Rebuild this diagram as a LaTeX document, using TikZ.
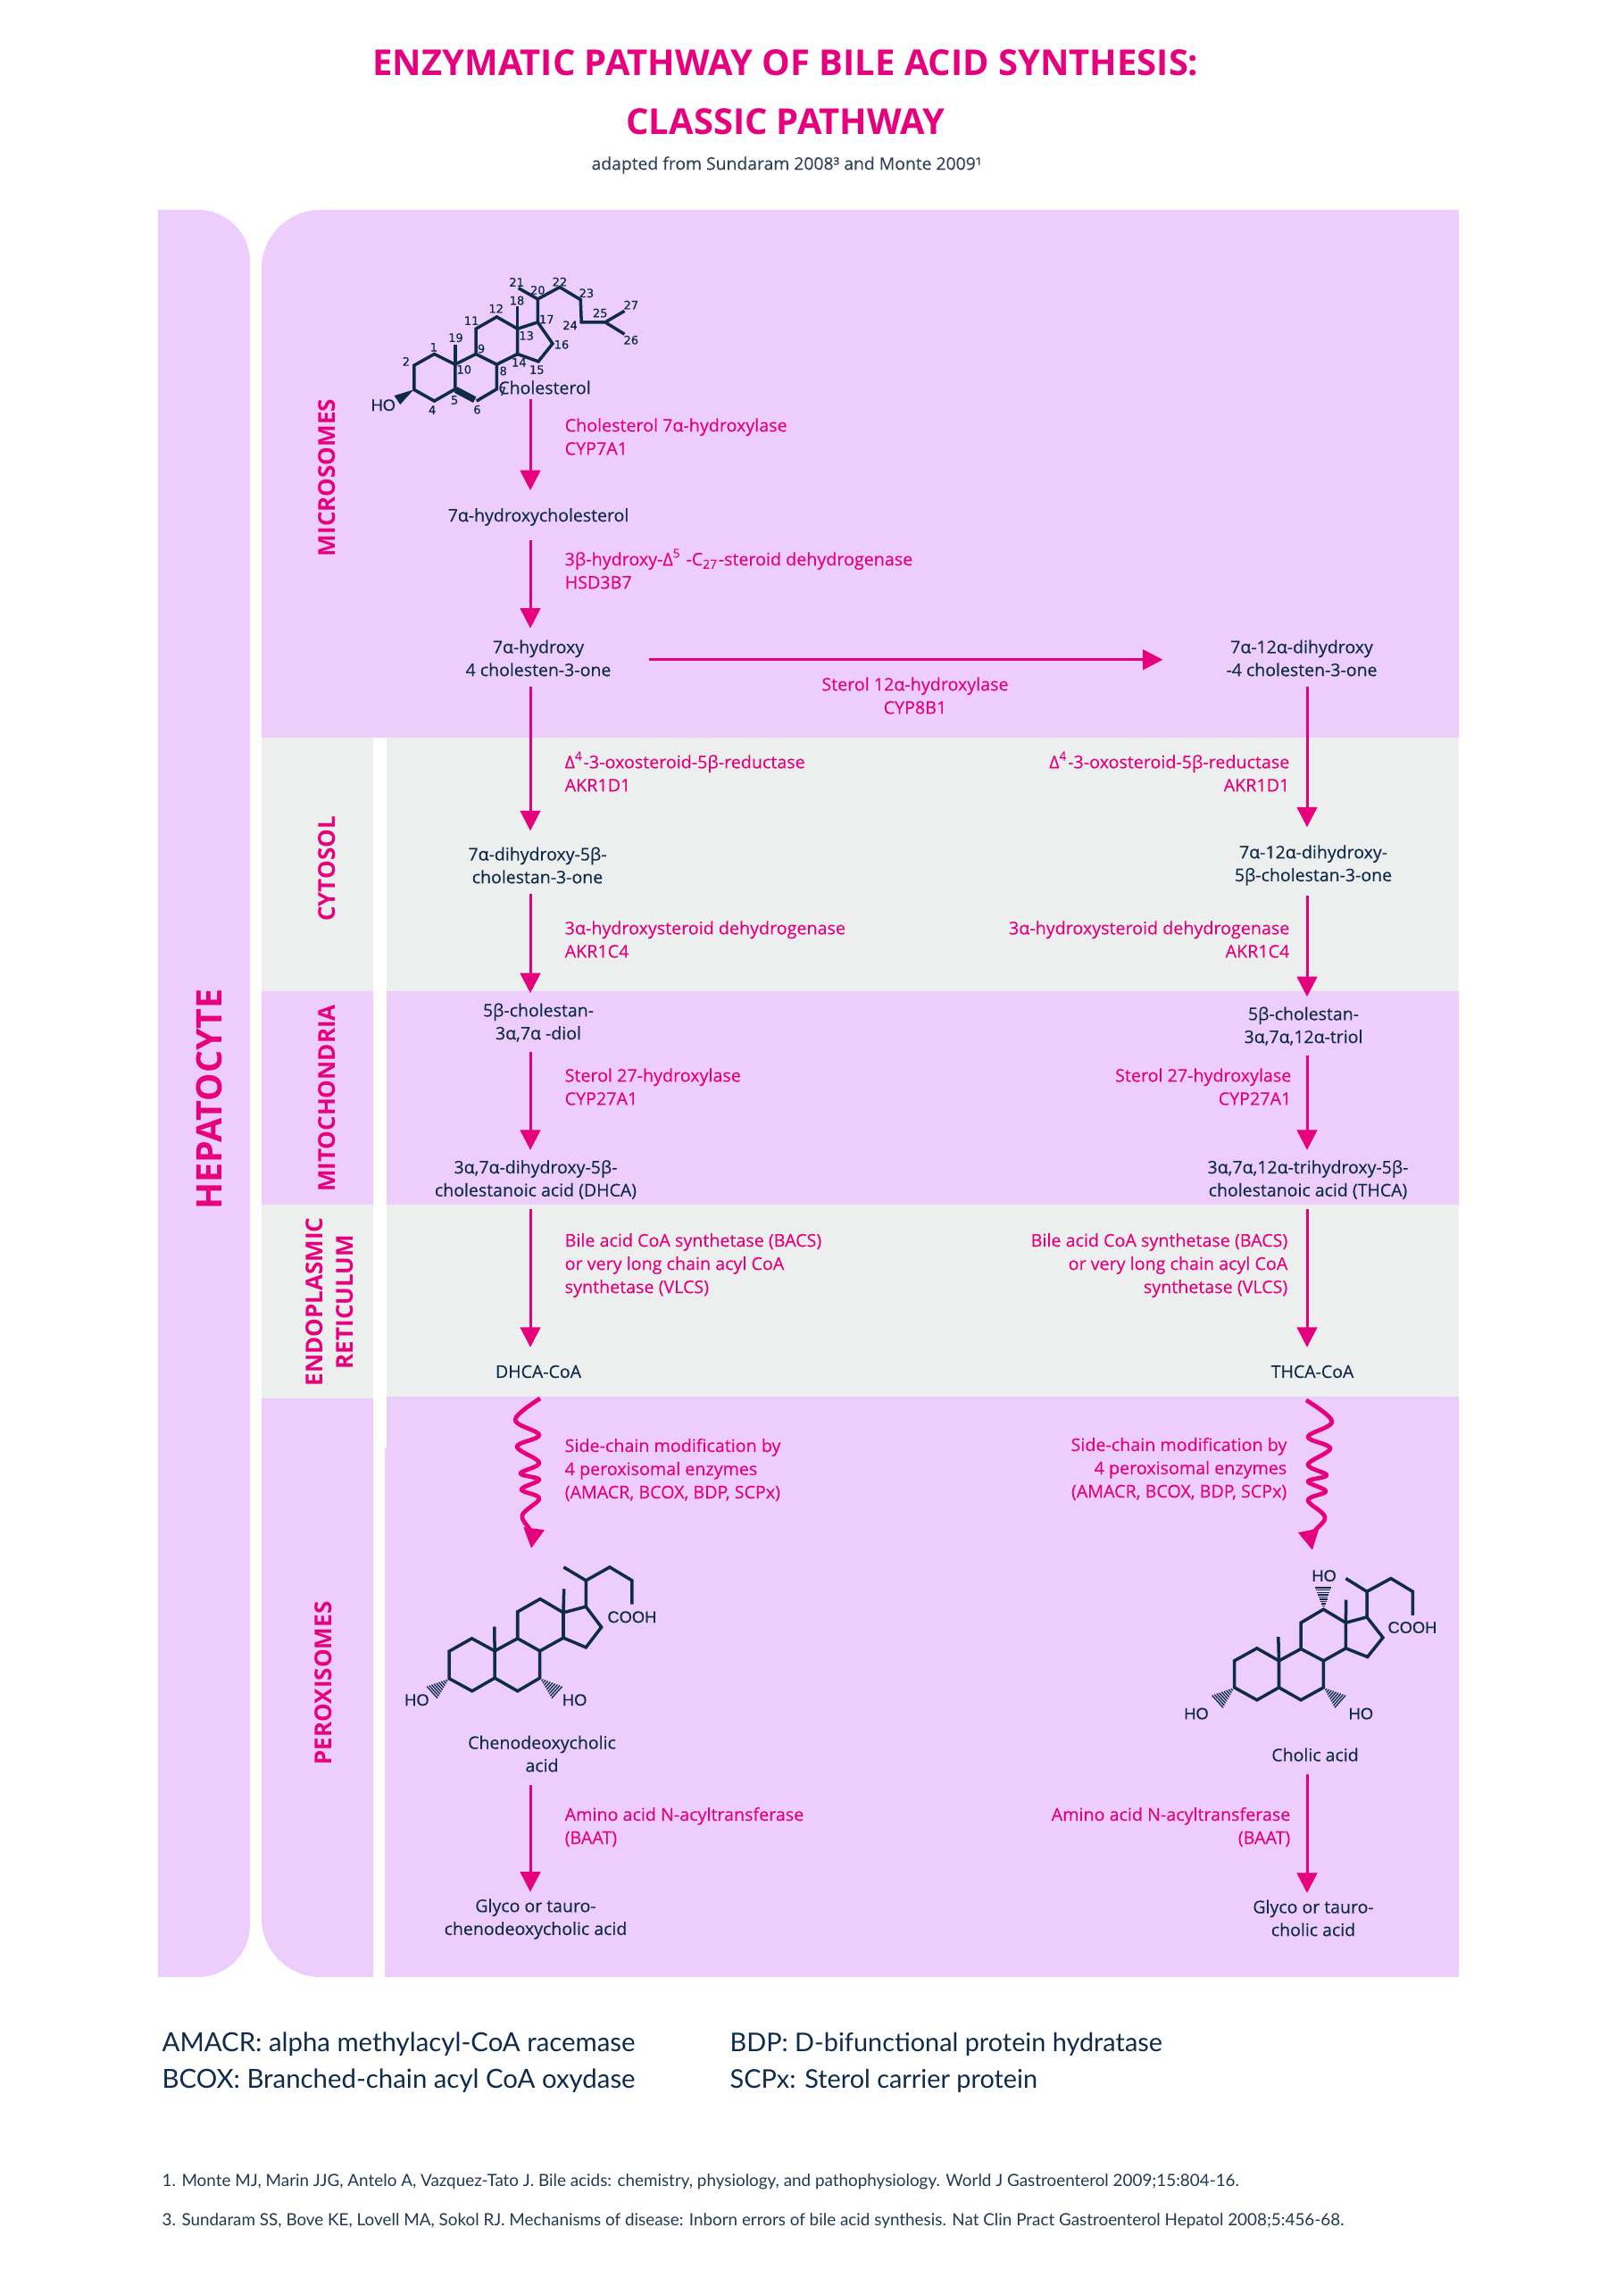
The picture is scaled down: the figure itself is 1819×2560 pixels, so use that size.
\documentclass[tikz,border=0pt]{standalone}
\usepackage{fontspec}
\setmainfont{Open Sans}
\newfontfamily\medfont[FakeBold=0.25]{Open Sans}
\newfontfamily\pinkfont[FakeBold=0.12]{Open Sans}
\newfontfamily\notefont{Lato}
\newfontfamily\chemfont[FakeBold=0.2]{Liberation Sans}
\newfontfamily\numfont[FakeBold=0.5]{DejaVu Sans}
\usetikzlibrary{arrows.meta}
\usetikzlibrary{calc}
\definecolor{cellpink}{HTML}{EDCDFC}
\definecolor{cellgrey}{HTML}{ECEFEE}
\definecolor{hotpink}{HTML}{E6007E}
\definecolor{navy}{HTML}{0F2B4A}
\tikzset{x=0.01cm, y=-0.01cm,
metab/.style={ % Sets the properties for each compound
text=navy, align=center, inner sep=0pt,
font=\medfont\fontsize{5.55}{7.3}\selectfont},
enzleft/.style={ % Enzyme text right of an arrow
text=hotpink, align=left, anchor=west, inner sep=0pt,
font=\pinkfont\fontsize{5.6}{7.4}\selectfont},
enzright/.style={ % Enzyme text left of an arrow
text=hotpink, align=right, anchor=east, inner sep=0pt,
font=\pinkfont\fontsize{5.6}{7.4}\selectfont},
place/.style={
text=hotpink, rotate=90, align=center, inner sep=0pt,
font=\fontsize{7.4}{9.6}\selectfont\bfseries},
flow/.style={
draw=hotpink, line width=0.85pt,
-{Triangle[length=6.4pt,width=6.4pt]}},
wavy/.style={
draw=hotpink, line width=1.35pt, line join=round,
-{Triangle[length=6.4pt,width=6.4pt]}},
bond/.style={draw=navy, line width=1pt, line join=miter},
atomnum/.style={text=navy, inner sep=0pt, font=\numfont\fontsize{3.7}{4}\selectfont},
group/.style={text=navy, inner sep=0pt, font=\chemfont\fontsize{5.2}{6}\selectfont},
legend/.style={text=navy, anchor=west, inner sep=0pt, font=\notefont\fontsize{8.35}{10}\selectfont},
refnote/.style={text=navy!85!gray, anchor=west, inner sep=0pt, font=\notefont\fontsize{5.36}{7}\selectfont},
hatch/.style={draw=navy, line width=0.38pt}}
\newcommand{\hashwedge}[3]{\foreach \t in {0.14,0.24,...,1.01}
\draw[hatch] ($(#1)!\t!(#2)$) -- ($(#1)!\t!(#3)$);}

\begin{document}
\begin{tikzpicture}
\useasboundingbox (0,0) rectangle (1819,2560);
% panels
\fill[cellpink] (177,235) [rounded corners=0.58cm] -- (280,235) -- (280,2214) [sharp corners] -- (177,2214) -- cycle;
\fill[cellpink] (1634,235) -- (1634,826) -- (293,826) [rounded corners=0.66cm] -- (293,235) [sharp corners] -- cycle;
\fill[cellgrey] (293,826) rectangle (418,1110);
\fill[cellgrey] (433,826) rectangle (1634,1110);
\fill[cellpink] (293,1110) rectangle (418,1349);
\fill[cellpink] (433,1110) rectangle (1634,1349);
\fill[cellgrey] (293,1349) rectangle (418,1566);
\fill[cellgrey] (433,1349) rectangle (1634,1564);
\fill[cellpink] (418,1566) -- (293,1566) [rounded corners=0.66cm] -- (293,2214) [sharp corners] -- (418,2214) -- cycle;
\fill[cellpink] (433,1564) -- (1634,1564) -- (1634,2214) -- (431,2214) -- (431,1622) -- (433,1622) -- cycle;

% heading
\node[text=hotpink, inner sep=0pt, font=\fontsize{11.35}{13}\selectfont\bfseries] (title1) at (880,70) {ENZYMATIC PATHWAY OF BILE ACID SYNTHESIS:};
\node[text=hotpink, inner sep=0pt, font=\fontsize{11.35}{13}\selectfont\bfseries] (title2) at (880,136) {CLASSIC PATHWAY};
\node[text=navy!70!gray, inner sep=0pt, font=\medfont\fontsize{5.5}{7}\selectfont] (source) at (881,185) {adapted from Sundaram 2008³ and Monte 2009¹};

% places
\node[place, font=\fontsize{11.2}{13}\selectfont\bfseries] (hepatocyte) at (234,1231) {HEPATOCYTE};
\node[place] (microsomes) at (366,535) {MICROSOMES};
\node[place] (cytosol) at (366,973) {CYTOSOL};
\node[place] (mitochondria) at (366,1230) {MITOCHONDRIA};
\node[place] (reticulum) at (369,1458) {ENDOPLASMIC\\RETICULUM};
\node[place] (peroxisomes) at (362,1885) {PEROXISOMES};

% arrow columns
\coordinate (lcol) at (594,0);
\coordinate (rcol) at (1464,0);

% left compounds
\node[metab] (chol) at (610,434) {Cholesterol};
\node[metab] (hchol) at (603,579) {7α-hydroxycholesterol};
\node[metab] (hcten) at (603,737) {7α-hydroxy\\4 cholesten-3-one};
\node[metab] (dhcta) at (602,969) {7α-dihydroxy-5β-\\cholestan-3-one};
\node[metab] (diol) at (603,1145) {5β-cholestan-\\3α,7α -diol};
\node[metab] (dhca) at (600,1321) {3α,7α-dihydroxy-5β-\\cholestanoic acid (DHCA)};
\node[metab] (dhcacoa) at (603,1536) {DHCA-CoA};
\node[metab] (cheno) at (607,1964) {Chenodeoxycholic\\acid};
\node[metab] (glycol) at (600,2149) {Glyco or tauro-\\chenodeoxycholic acid};

% right compounds
\node[metab] (dhcten) at (1458,737) {7α-12α-dihydroxy\\-4 cholesten-3-one};
\node[metab] (dhcstan) at (1471,969) {7α-12α-dihydroxy-\\5β-cholestan-3-one};
\node[metab] (triol) at (1460,1149) {5β-cholestan-\\3α,7α,12α-triol};
\node[metab] (thca) at (1465,1321) {3α,7α,12α-trihydroxy-5β-\\cholestanoic acid (THCA)};
\node[metab] (thcacoa) at (1470,1536) {THCA-CoA};
\node[metab] (cholic) at (1473,1965) {Cholic acid};
\node[metab] (glycor) at (1471,2148) {Glyco or tauro-\\cholic acid};

% left enzymes
\node[enzleft] (e1) at (632,489) {Cholesterol 7α-hydroxylase\\CYP7A1};
\node[enzleft] (e2) at (632,637) {3β-hydroxy-Δ\textsuperscript{5} -C\textsubscript{27}-steroid dehydrogenase\\HSD3B7};
\node[enzleft] (e3) at (632,864) {Δ\textsuperscript{4}-3-oxosteroid-5β-reductase\\AKR1D1};
\node[enzleft] (e4) at (632,1052) {3α-hydroxysteroid dehydrogenase\\AKR1C4};
\node[enzleft] (e5) at (632,1217) {Sterol 27-hydroxylase\\CYP27A1};
\node[enzleft] (e6) at (632,1417) {Bile acid CoA synthetase (BACS)\\or very long chain acyl CoA\\synthetase (VLCS)};
\node[enzleft] (e7) at (632,1646) {Side-chain modification by\\4 peroxisomal enzymes\\(AMACR, BCOX, BDP, SCPx)};
\node[enzleft] (e8) at (632,2046) {Amino acid N-acyltransferase\\(BAAT)};

% right enzymes
\node[enzright] (f3) at (1445,864) {Δ\textsuperscript{4}-3-oxosteroid-5β-reductase\\AKR1D1};
\node[enzright] (f4) at (1445,1052) {3α-hydroxysteroid dehydrogenase\\AKR1C4};
\node[enzright] (f5) at (1447,1217) {Sterol 27-hydroxylase\\CYP27A1};
\node[enzright] (f6) at (1443,1417) {Bile acid CoA synthetase (BACS)\\or very long chain acyl CoA\\synthetase (VLCS)};
\node[enzright] (f7) at (1442,1645) {Side-chain modification by\\4 peroxisomal enzymes\\(AMACR, BCOX, BDP, SCPx)};
\node[enzright] (f8) at (1446,2046) {Amino acid N-acyltransferase\\(BAAT)};
\node[text=hotpink, align=center, inner sep=0pt, font=\pinkfont\fontsize{5.6}{7.4}\selectfont] (e12) at (1025,779) {Sterol 12α-hydroxylase\\CYP8B1};

% left arrows
\draw[flow] ([yshift=-1.5pt]chol.south -| lcol) -- ([yshift=5.5pt]hchol.north -| lcol);
\draw[flow] ([yshift=-4.5pt]hchol.south -| lcol) -- ([yshift=3.5pt]hcten.north -| lcol);
\draw[flow] ([yshift=-3pt]hcten.south -| lcol) -- ([yshift=5pt]dhcta.north -| lcol);
\draw[flow] ([yshift=-3pt]dhcta.south -| lcol) -- ([yshift=3pt]diol.north -| lcol);
\draw[flow] ([yshift=-3pt]diol.south -| lcol) -- ([yshift=3pt]dhca.north -| lcol);
\draw[flow] ([yshift=-3pt]dhca.south -| lcol) -- ([yshift=5.5pt]dhcacoa.north -| lcol);
\draw[flow] ([yshift=-4pt]cheno.south -| lcol) -- ([yshift=2pt]glycol.north -| lcol);
\draw[flow] ([xshift=12pt, yshift=-0.5pt]hcten.east) -- ([xshift=-20pt, yshift=-0.5pt]dhcten.west);

% right arrows
\draw[flow] ([yshift=-3pt]dhcten.south -| rcol) -- ([yshift=5.5pt]dhcstan.north -| rcol);
\draw[flow] ([yshift=-3pt]dhcstan.south -| rcol) -- ([yshift=3pt]triol.north -| rcol);
\draw[flow] ([yshift=-3pt]triol.south -| rcol) -- ([yshift=3pt]thca.north -| rcol);
\draw[flow] ([yshift=-3pt]thca.south -| rcol) -- ([yshift=5.5pt]thcacoa.north -| rcol);
\draw[flow] ([yshift=-4pt]cholic.south -| rcol) -- ([yshift=2pt]glycor.north -| rcol);

% wavy arrows
\coordinate (wl0) at (605,1566);
\coordinate (wl1) at (595,1734);
\coordinate (wr0) at (1463,1568);
\coordinate (wr1) at (1470,1736);
\draw[wavy] plot[smooth, tension=0.6] coordinates {(wl0) (577,1590) (604,1607) (579,1620) (604,1638) (583,1650) (604,1657) (584,1668) (604,1678) (585,1697) (595,1716) (wl1)};
\draw[wavy] plot[smooth, tension=0.6] coordinates {(wr0) (1492,1592) (1465,1609) (1490,1622) (1465,1640) (1486,1652) (1465,1659) (1485,1670) (1465,1680) (1484,1699) (1470,1718) (wr1)};

% cholesterol
\begin{scope}[shift={(380,280)}, x=0.003333cm, y=-0.003333cm]
\draw[bond] (320,350) -- (252,388) -- (252,470) -- (320,508) -- (390,468) -- (390,385) -- cycle;
\draw[bond] (390,385) -- (460,350) -- (530,385) -- (530,468) -- (462,508);
\draw[bond, line width=2.1pt] (392,470) -- (456,504);
\draw[bond] (390,385) -- (390,318);
\draw[bond] (460,350) -- (460,265) -- (530,225) -- (600,265) -- (600,350) -- (530,385);
\draw[bond] (600,265) -- (668,243) -- (718,315) -- (670,375) -- (600,350);
\draw[bond] (600,265) -- (600,190);
\draw[bond] (668,243) -- (668,165) -- (603,128);
\draw[bond] (668,165) -- (742,125) -- (812,167) -- (815,243) -- (895,243) -- (960,283);
\draw[bond] (895,243) -- (960,205);
\fill[navy] (250,470) -- (185,490) -- (205,520) -- cycle;
\node[group] (hoa) at (148,522) {HO};
\node[atomnum] (n1) at (318,327) {1};
\node[atomnum] (n2) at (225,375) {2};
\node[atomnum] (n4) at (313,538) {4};
\node[atomnum] (n5) at (388,505) {5};
\node[atomnum] (n6) at (464,537) {6};
\node[atomnum] (n7) at (550,475) {7};
\node[atomnum] (n8) at (552,407) {8};
\node[atomnum] (n9) at (478,332) {9};
\node[atomnum] (n10) at (420,402) {10};
\node[atomnum] (n11) at (445,238) {11};
\node[atomnum] (n12) at (528,197) {12};
\node[atomnum] (n13) at (630,288) {13};
\node[atomnum] (n14) at (605,378) {14};
\node[atomnum] (n15) at (665,403) {15};
\node[atomnum] (n16) at (748,318) {16};
\node[atomnum] (n17) at (698,233) {17};
\node[atomnum] (n18) at (598,170) {18};
\node[atomnum] (n19) at (392,295) {19};
\node[atomnum] (n20) at (668,135) {20};
\node[atomnum] (n21) at (597,108) {21};
\node[atomnum] (n22) at (742,107) {22};
\node[atomnum] (n23) at (832,145) {23};
\node[atomnum] (n24) at (777,253) {24};
\node[atomnum] (n25) at (878,212) {25};
\node[atomnum] (n26) at (982,303) {26};
\node[atomnum] (n27) at (982,185) {27};
\end{scope}

% chenodeoxycholic acid
\begin{scope}[shift={(420,1730)}, x=0.003333cm, y=-0.003333cm]
\draw[bond] (326,315) -- (250,358) -- (250,450) -- (327,492) -- (403,448) -- (403,357) -- cycle;
\draw[bond] (403,357) -- (480,315) -- (555,357) -- (555,448) -- (480,492) -- (403,448);
\draw[bond] (403,357) -- (402,275);
\draw[bond] (480,315) -- (480,225) -- (556,182) -- (634,228) -- (634,313) -- (555,357);
\draw[bond] (634,228) -- (710,208) -- (762,277) -- (710,345) -- (634,313);
\draw[bond] (634,228) -- (636,148);
\draw[bond] (710,208) -- (710,120) -- (635,75);
\draw[bond] (710,120) -- (790,75) -- (865,120) -- (865,200);
\coordinate (c3) at (250,450); \coordinate (c7) at (555,448);
\coordinate (w1) at (170,478); \coordinate (w2) at (208,520);
\coordinate (w3) at (597,520); \coordinate (w4) at (635,478);
\hashwedge{c3}{w1}{w2}
\hashwedge{c7}{w3}{w4}
\node[group] (hob) at (141,522) {HO};
\node[group] (hoc) at (672,522) {HO};
\node[group] (cooha) at (865,243) {COOH};
\end{scope}

% cholic acid
\begin{scope}[shift={(1320,1740)}, x=0.003333cm, y=-0.003333cm]
\draw[bond] (264,318) -- (188,360) -- (188,450) -- (264,492) -- (338,450) -- (338,360) -- cycle;
\draw[bond] (338,360) -- (412,320) -- (488,360) -- (488,450) -- (412,492) -- (338,450);
\draw[bond] (338,360) -- (336,280);
\draw[bond] (412,320) -- (412,232) -- (488,187) -- (563,232) -- (563,318) -- (488,360);
\draw[bond] (563,232) -- (634,213) -- (688,282) -- (636,347) -- (563,318);
\draw[bond] (563,232) -- (564,155);
\draw[bond] (634,213) -- (634,127) -- (563,83);
\draw[bond] (634,127) -- (715,83) -- (788,127) -- (788,207);
\coordinate (d3) at (188,450); \coordinate (d7) at (488,450); \coordinate (d12) at (488,187);
\coordinate (x1) at (108,478); \coordinate (x2) at (148,522);
\coordinate (x3) at (528,522); \coordinate (x4) at (567,478);
\coordinate (x5) at (458,110); \coordinate (x6) at (516,110);
\hashwedge{d3}{x1}{x2}
\hashwedge{d7}{x3}{x4}
\hashwedge{d12}{x5}{x6}
\node[group] (hod) at (490,74) {HO};
\node[group] (hoe) at (60,538) {HO};
\node[group] (hof) at (614,538) {HO};
\node[group] (coohb) at (787,248) {COOH};
\end{scope}

% legend
\node[legend] (amacr) at (181,2289) {AMACR: alpha methylacyl-CoA racemase};
\node[legend] (bcox) at (181,2330) {BCOX: Branched-chain acyl CoA oxydase};
\node[legend, font=\notefont\fontsize{8.2}{10}\selectfont] (bdp) at (817,2289) {BDP: D-bifunctional protein hydratase};
\node[legend, font=\notefont\fontsize{8.2}{10}\selectfont] (scpx) at (817,2330) {SCPx: Sterol carrier protein};
\node[refnote] (ref1) at (181,2443) {1. Monte MJ, Marin JJG, Antelo A, Vazquez-Tato J. Bile acids: chemistry, physiology, and pathophysiology. World J Gastroenterol 2009;15:804-16.};
\node[refnote] (ref3) at (181,2487) {3. Sundaram SS, Bove KE, Lovell MA, Sokol RJ. Mechanisms of disease: Inborn errors of bile acid synthesis. Nat Clin Pract Gastroenterol Hepatol 2008;5:456-68.};
\end{tikzpicture}
\end{document}
